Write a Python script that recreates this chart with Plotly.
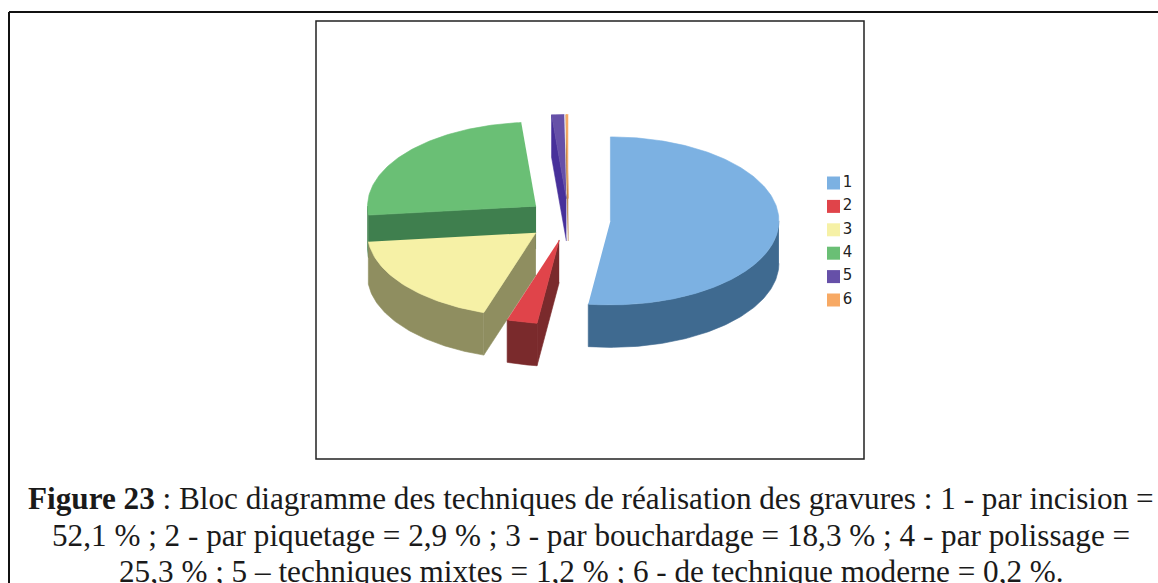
import numpy as np
import plotly.graph_objects as go

categories = ["1", "2", "3", "4", "5", "6"]
values = [52.1, 2.9, 18.3, 25.3, 1.2, 0.2]
top_colors = ["#7cb1e2", "#e0444a", "#f6f1a6", "#6abf75", "#6650a8", "#f7a964"]
wall_colors = ["#3f6a90", "#7a2a2c", "#8f8e60", "#3f7f4e", "#47309a", "#b07a40"]
caption = [
    "<b>Figure 23</b> : Bloc diagramme des techniques de réalisation des gravures : 1 - par incision =",
    "52,1 % ; 2 - par piquetage = 2,9 % ; 3 - par bouchardage = 18,3 % ; 4 - par polissage =",
    "25,3 % ; 5 – techniques mixtes = 1,2 % ; 6 - de technique moderne = 0,2 %.",
]

# projection of the tilted pie, in the page's pixel scale
CX, CY, RX, RY, DEPTH, EXPLODE = 568.5, 219.5, 168.5, 84, 42.5, 42
KEY_X, KEY_Y, KEY_STEP = 833.5, 183, 23.4
total = sum(values)
edges = np.cumsum([0] + values) / total * 2 * np.pi


def pt(a):
    return RX * np.sin(a), -RY * np.cos(a)


def poly(fig, xs, ys, color):
    fig.add_trace(go.Scatter(x=xs, y=ys, mode="lines", fill="toself", fillcolor=color,
                             line=dict(color=color, width=0.6), showlegend=False,
                             hoverinfo="skip"))


fig = go.Figure()
order = [3, 4, 5, 0, 2, 1]  # back to front
for i in order:
    a0, a1 = edges[i], edges[i + 1]
    mid = (a0 + a1) / 2
    ox = CX + EXPLODE * np.sin(mid)
    oy = CY - EXPLODE * 0.5 * np.cos(mid)
    arc = np.linspace(a0, a1, max(3, int((a1 - a0) * 60)))
    ax, ay = pt(arc)
    # outer wall: front half of the rim
    lo, hi = max(a0, np.pi / 2), min(a1, 3 * np.pi / 2)
    if hi > lo:
        w = np.linspace(lo, hi, max(3, int((hi - lo) * 60)))
        wx, wy = pt(w)
        poly(fig, list(ox + wx) + list(ox + wx[::-1]),
             list(oy + wy) + list(oy + wy[::-1] + DEPTH), wall_colors[i])
    # cut faces whose outside looks towards the viewer
    for a, sign in ((a0, 1), (a1, -1)):
        ex, ey = pt(a)
        if sign * ex < 0:
            poly(fig, [ox, ox + ex, ox + ex, ox],
                 [oy, oy + ey, oy + ey + DEPTH, oy + DEPTH], wall_colors[i])
    # top face
    poly(fig, [ox] + list(ox + ax), [oy] + list(oy + ay), top_colors[i])

# colour key beside the pie
fig.add_trace(go.Scatter(
    x=[KEY_X] * len(categories),
    y=[KEY_Y + KEY_STEP * k for k in range(len(categories))],
    mode="markers+text", text=categories, textposition="middle right",
    textfont=dict(family="DejaVu Sans", size=15, color="#222222"),
    marker=dict(symbol="square", size=13, color=top_colors),
    showlegend=False, hoverinfo="skip"))

fig.update_layout(
    width=1158, height=583, margin=dict(l=0, r=0, t=0, b=0),
    paper_bgcolor="white", plot_bgcolor="white",
    xaxis=dict(range=[0, 1158], visible=False, fixedrange=True),
    yaxis=dict(range=[583, 0], visible=False, fixedrange=True),
    shapes=[
        dict(type="rect", x0=316, x1=864, y0=21, y1=459, line=dict(color="#222222", width=1.5)),
        dict(type="line", x0=9, x1=1158, y0=12, y1=12, line=dict(color="#111111", width=2)),
        dict(type="line", x0=9, x1=9, y0=12, y1=583, line=dict(color="#111111", width=2)),
    ],
    annotations=[
        dict(x=591, y=yy, text=t, xref="x", yref="y", showarrow=False, xanchor="center",
             yanchor="middle", font=dict(family="Liberation Serif", size=31.2, color="#1a1a1a"))
        for t, yy in zip(caption, [498, 535, 571])
    ],
)

fig.write_html("out.html", config=dict(displayModeBar=False),
               post_script="document.body.style.margin='0';")
